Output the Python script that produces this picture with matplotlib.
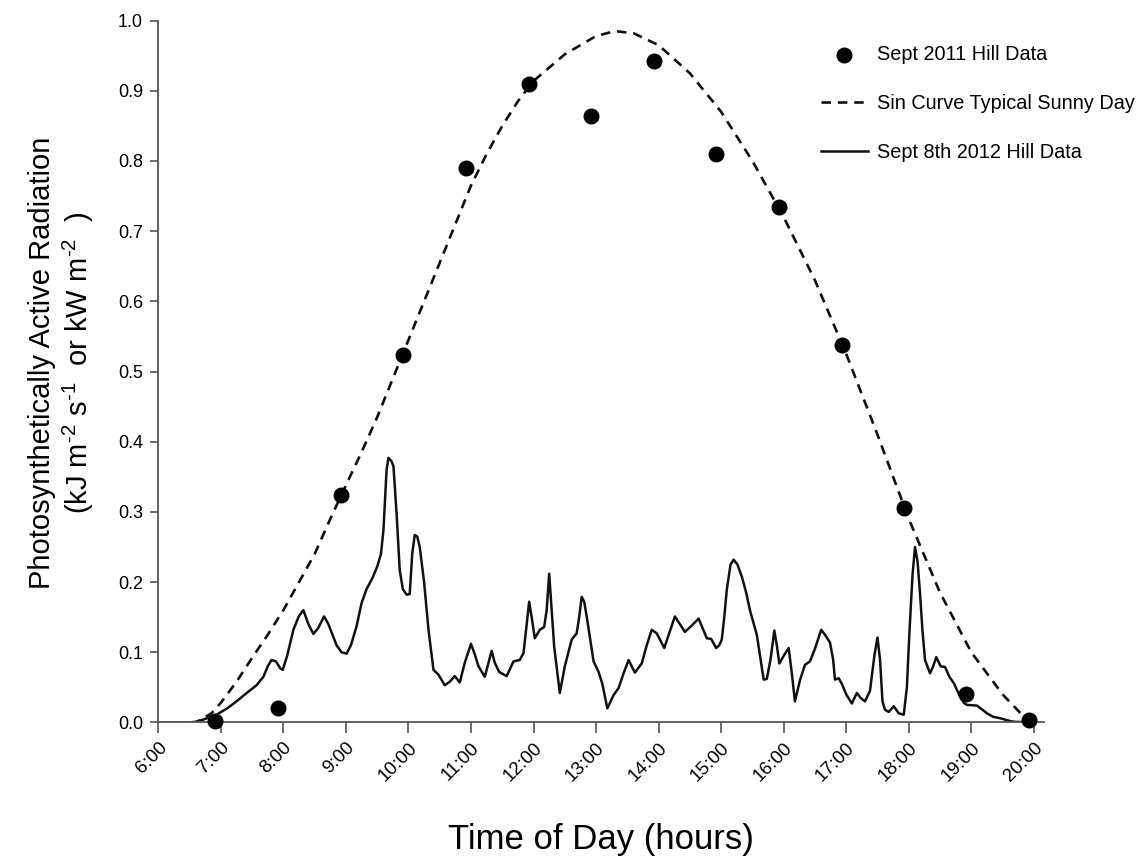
import matplotlib.pyplot as plt

plt.rcParams['font.family'] = ['Liberation Sans', 'DejaVu Sans']
plt.rcParams['mathtext.fontset'] = 'custom'
plt.rcParams['mathtext.rm'] = 'Liberation Sans'
plt.rcParams['mathtext.it'] = 'Liberation Sans'

# Sept 2011 hill data (hour of day, PAR)
pts_hour = [6.91, 7.92, 8.92, 9.91, 10.92, 11.92, 12.92, 13.92, 14.92, 15.92, 16.93, 17.92, 18.92, 19.93]
pts_par = [0.002, 0.021, 0.324, 0.524, 0.790, 0.910, 0.864, 0.943, 0.810, 0.735, 0.538, 0.306, 0.041, 0.004]

# sin curve, typical sunny day
sin_hour = [6.0, 6.6, 6.85, 7.0, 7.25, 7.5, 7.75, 8.0, 8.25, 8.5, 8.75, 9.0, 9.25, 9.5, 9.75,
            10.0, 10.25, 10.5, 10.75, 11.0, 11.25, 11.5, 11.75, 12.0, 12.5, 13.0, 13.3, 13.6,
            14.0, 14.5, 15.0, 15.5, 16.0, 16.5, 17.0, 17.5, 18.0, 18.5, 19.0, 19.5, 19.8, 20.0]
sin_par = [0.0, 0.0, 0.013, 0.028, 0.058, 0.092, 0.125, 0.16, 0.2, 0.24, 0.29, 0.338, 0.385,
           0.435, 0.49, 0.545, 0.6, 0.655, 0.71, 0.765, 0.81, 0.85, 0.885, 0.914, 0.952, 0.978,
           0.985, 0.982, 0.965, 0.925, 0.87, 0.8, 0.72, 0.63, 0.525, 0.41, 0.29, 0.185, 0.1,
           0.04, 0.012, 0.0]

# Sept 8th 2012 hill data
day_hour = [6.0, 6.5, 6.6, 6.72, 6.93, 7.1, 7.25, 7.4, 7.57, 7.68, 7.75, 7.81, 7.88, 7.95, 7.99,
            8.06, 8.16, 8.25, 8.32, 8.4, 8.48, 8.56, 8.65, 8.72, 8.85, 8.93, 9.01, 9.08, 9.17,
            9.25, 9.33, 9.42, 9.5, 9.56, 9.6, 9.65, 9.68, 9.73, 9.76, 9.81, 9.86, 9.91, 9.97,
            10.02, 10.06, 10.1, 10.14, 10.18, 10.25, 10.32, 10.4, 10.48, 10.58, 10.66, 10.74,
            10.82, 10.9, 11.0, 11.06, 11.12, 11.22, 11.28, 11.33, 11.38, 11.45, 11.57, 11.68,
            11.78, 11.84, 11.89, 11.93, 11.97, 12.02, 12.1, 12.17, 12.21, 12.25, 12.29, 12.33,
            12.42, 12.5, 12.61, 12.69, 12.73, 12.77, 12.81, 12.85, 12.96, 13.04, 13.1, 13.18,
            13.28, 13.36, 13.44, 13.52, 13.62, 13.73, 13.81, 13.89, 13.97, 14.09, 14.18, 14.26,
            14.34, 14.42, 14.53, 14.64, 14.7, 14.77, 14.84, 14.92, 14.97, 15.01, 15.05, 15.09,
            15.15, 15.2, 15.26, 15.33, 15.4, 15.46, 15.57, 15.63, 15.68, 15.73, 15.79, 15.85,
            15.89, 15.93, 16.0, 16.08, 16.13, 16.18, 16.26, 16.34, 16.42, 16.5, 16.6, 16.66,
            16.74, 16.79, 16.82, 16.88, 16.93, 17.0, 17.09, 17.17, 17.23, 17.3, 17.38, 17.45,
            17.5, 17.54, 17.58, 17.62, 17.68, 17.76, 17.84, 17.92, 17.97, 18.01, 18.06, 18.1,
            18.14, 18.18, 18.22, 18.26, 18.34, 18.39, 18.44, 18.51, 18.58, 18.65, 18.72, 18.82,
            18.88, 18.93, 19.09, 19.18, 19.25, 19.35, 19.46, 19.62, 19.68, 19.94, 20.0]
day_par = [0.0, 0.0, 0.001, 0.004, 0.011, 0.02, 0.03, 0.041, 0.053, 0.065, 0.08, 0.089, 0.087,
           0.077, 0.075, 0.095, 0.132, 0.152, 0.16, 0.14, 0.126, 0.135, 0.151, 0.14, 0.11, 0.1,
           0.098, 0.11, 0.137, 0.17, 0.19, 0.205, 0.222, 0.24, 0.274, 0.36, 0.377, 0.372, 0.365,
           0.298, 0.217, 0.19, 0.182, 0.183, 0.24, 0.267, 0.265, 0.25, 0.2, 0.132, 0.075, 0.068,
           0.053, 0.058, 0.066, 0.057, 0.085, 0.112, 0.097, 0.08, 0.065, 0.085, 0.102, 0.085,
           0.072, 0.066, 0.087, 0.089, 0.099, 0.14, 0.172, 0.15, 0.12, 0.132, 0.136, 0.16, 0.212,
           0.16, 0.108, 0.042, 0.08, 0.118, 0.127, 0.15, 0.179, 0.172, 0.151, 0.087, 0.072,
           0.055, 0.02, 0.039, 0.049, 0.07, 0.089, 0.071, 0.084, 0.11, 0.132, 0.127, 0.106, 0.13,
           0.151, 0.14, 0.129, 0.138, 0.148, 0.135, 0.12, 0.119, 0.106, 0.11, 0.118, 0.15, 0.189,
           0.225, 0.232, 0.225, 0.208, 0.185, 0.16, 0.125, 0.09, 0.061, 0.062, 0.09, 0.131, 0.11,
           0.084, 0.095, 0.106, 0.07, 0.03, 0.06, 0.082, 0.087, 0.105, 0.132, 0.125, 0.114, 0.09,
           0.061, 0.063, 0.055, 0.04, 0.027, 0.042, 0.035, 0.03, 0.045, 0.095, 0.121, 0.09, 0.03,
           0.018, 0.015, 0.023, 0.013, 0.011, 0.05, 0.127, 0.21, 0.25, 0.23, 0.184, 0.13, 0.089,
           0.07, 0.08, 0.093, 0.08, 0.079, 0.065, 0.056, 0.037, 0.028, 0.025, 0.024, 0.018,
           0.013, 0.008, 0.006, 0.002, 0.001, 0.0, 0.0]

hour_ticks = list(range(6, 21))
hour_labels = [str(h) + ":00" for h in hour_ticks]
par_ticks = [i / 10 for i in range(11)]

fig = plt.figure(figsize=(11.39, 8.58), dpi=100)
ax = fig.add_axes([0.139, 0.158, 0.778, 0.818])

ax.scatter(pts_hour, pts_par, s=110, color='black', zorder=5, clip_on=False,
           label='Sept 2011 Hill Data')
ax.plot(sin_hour, sin_par, color='#111111', lw=1.9, linestyle=(0, (3.6, 2.6)),
        label='Sin Curve Typical Sunny Day')
ax.plot(day_hour, day_par, color='#111111', lw=1.8, label='Sept 8th 2012 Hill Data')

ax.set_xlim(6, 20.17)
ax.set_ylim(0, 1.0)
ax.set_xticks(hour_ticks)
ax.set_xticklabels(hour_labels, rotation=45, ha='right', va='top', rotation_mode='anchor',
                   fontsize=13.5)
ax.set_yticks(par_ticks)
ax.set_yticklabels(['%.1f' % v for v in par_ticks], fontsize=13)

for side in ['top', 'right']:
    ax.spines[side].set_visible(False)
for side in ['left', 'bottom']:
    ax.spines[side].set_color('#555555')
    ax.spines[side].set_linewidth(1.3)
ax.tick_params(axis='x', length=8, width=1.2, color='#555555', pad=4)
ax.tick_params(axis='y', length=6, width=1.2, color='#555555', pad=5)

ax.set_xlabel('Time of Day (hours)', fontsize=25, labelpad=28)
ax.set_ylabel('Photosynthetically Active Radiation\n'
              r'(kJ m$^{\text{-2}}$ s$^{\text{-1}}$  or kW m$^{\text{-2}}$  )',
              fontsize=21, labelpad=16, linespacing=1.15)
ax.yaxis.label.set_y(0.512)

ax.legend(loc='upper left', bbox_to_anchor=(821 / 1139, 1 - 45 / 858),
          bbox_transform=fig.transFigure, frameon=False, fontsize=14.3,
          handlelength=2.35, handletextpad=0.45, labelspacing=1.5, borderpad=0,
          borderaxespad=0)

fig.savefig('out.png', dpi=100)
